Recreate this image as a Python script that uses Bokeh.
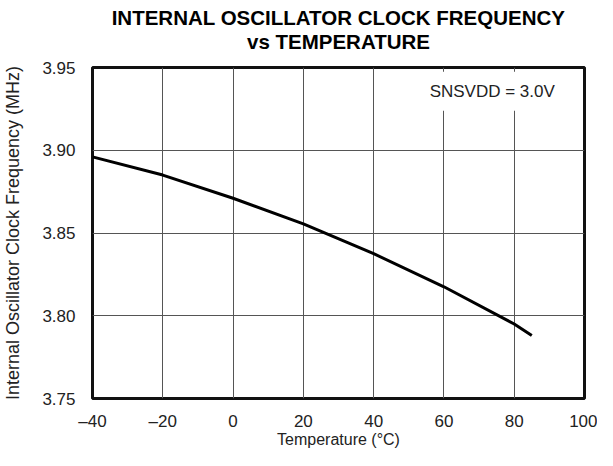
from bokeh.plotting import figure
from bokeh.models import Label, Range1d, FixedTicker, PrintfTickFormatter, Title
from bokeh.embed import file_html
from bokeh.resources import INLINE

temps = [-40, -20, 0, 20, 40, 60, 80, 85]
freqs = [3.896, 3.885, 3.871, 3.8555, 3.8375, 3.8175, 3.795, 3.788]
x_ticks = [-40, -20, 0, 20, 40, 60, 80, 100]
x_tick_labels = {-40: "\u201340", -20: "\u201320", 0: "0", 20: "20", 40: "40", 60: "60", 80: "80", 100: "100"}
y_ticks = [3.75, 3.80, 3.85, 3.90, 3.95]
title_line1 = "INTERNAL OSCILLATOR CLOCK FREQUENCY"
title_line2 = "vs TEMPERATURE"
note_text = "SNSVDD = 3.0V"

FONT = "Liberation Sans"

p = figure(width=597, height=450, output_backend="svg", toolbar_location=None,
           x_range=Range1d(-40, 100), y_range=Range1d(3.75, 3.95),
           min_border_left=92, min_border_right=13, min_border_bottom=52, min_border_top=67)

t2 = Title(text=title_line2, align="center", text_font=FONT, text_font_size="20.5px",
           text_font_style="bold", text_color="black", standoff=30)
t1 = Title(text=title_line1, align="center", text_font=FONT, text_font_size="20.5px",
           text_font_style="bold", text_color="black", standoff=-32)
p.add_layout(t2, "above")
p.add_layout(t1, "above")

p.line(temps, freqs, line_color="black", line_width=3)

p.xaxis.ticker = FixedTicker(ticks=x_ticks)
p.xaxis.major_label_overrides = x_tick_labels
p.yaxis.ticker = FixedTicker(ticks=y_ticks)
p.yaxis.formatter = PrintfTickFormatter(format="%.2f")

for ax in (p.xaxis[0], p.yaxis[0]):
    ax.axis_line_color = None
    ax.major_tick_line_color = None
    ax.minor_tick_line_color = None
    ax.major_tick_out = 0
    ax.major_tick_in = 0
    ax.major_label_text_font = FONT
    ax.major_label_text_font_size = "17px"
    ax.major_label_text_color = "#222222"
    ax.axis_label_text_font = FONT
    ax.axis_label_text_font_style = "normal"
    ax.axis_label_text_color = "#222222"

p.xaxis.axis_label = "Temperature (\u00b0C)"
p.yaxis.axis_label = "Internal Oscillator Clock Frequency (MHz)"
p.xaxis.axis_label_text_font_size = "16px"
p.yaxis.axis_label_text_font_size = "18px"
p.xaxis.major_label_standoff = 13
p.yaxis.major_label_standoff = 17
p.xaxis.axis_label_standoff = -3
p.yaxis.axis_label_standoff = 16

p.xgrid.ticker = FixedTicker(ticks=x_ticks)
p.ygrid.ticker = FixedTicker(ticks=y_ticks)
p.grid.grid_line_color = "#555555"
p.grid.grid_line_width = 1

p.outline_line_color = "#111111"
p.outline_line_width = 3

p.add_layout(Label(x=94.4, y=3.9357, text=note_text, text_align="right", text_baseline="middle",
                   text_font=FONT, text_font_size="17px", text_color="#222222",
                   background_fill_color="white", padding=10))

open("out.html", "w").write(file_html(p, INLINE))
